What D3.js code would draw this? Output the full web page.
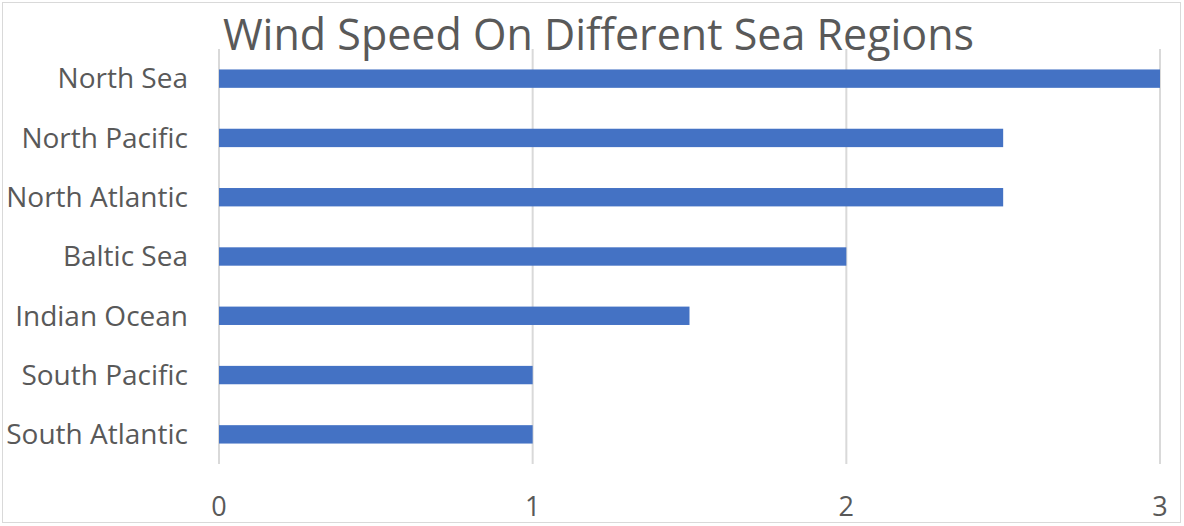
<!DOCTYPE html>
<html><head><meta charset="utf-8">
<script src="https://cdn.jsdelivr.net/npm/d3@7"></script>
<style>body{margin:0;background:#fff;} svg{display:block;}</style>
</head><body>
<svg id="c" width="1184" height="526"></svg>
<script>
const categories = ["North Sea","North Pacific","North Atlantic","Baltic Sea","Indian Ocean","South Pacific","South Atlantic"];
const values = [3, 2.5, 2.5, 2, 1.5, 1, 1];
const ticks = [0, 1, 2, 3];
const title = "Wind Speed On Different Sea Regions";

const svg = d3.select("#c");
const font = "'Open Sans', sans-serif";
svg.append("rect").attr("x",2.5).attr("y",2.5).attr("width",1178).attr("height",520)
  .attr("fill","#fff").attr("stroke","#d9d9d9").attr("stroke-width",1);

const x = d3.scaleLinear().domain([0,3]).range([219,1160]);
const y = d3.scaleBand().domain(categories).range([49,464]).paddingInner(0.69).paddingOuter(0.345);

svg.append("g").selectAll("line").data(ticks).join("line")
  .attr("x1",d=>x(d)).attr("x2",d=>x(d)).attr("y1",49).attr("y2",464)
  .attr("stroke","#d9d9d9").attr("stroke-width",2);

svg.append("g").selectAll("rect").data(values).join("rect")
  .attr("x",x(0)).attr("y",(d,i)=>y(categories[i]))
  .attr("width",d=>x(d)-x(0)).attr("height",y.bandwidth())
  .attr("fill","#4472c4");

svg.append("g").selectAll("text").data(categories).join("text")
  .attr("x",188).attr("y",d=>y(d)+y.bandwidth()/2).attr("dy","0.35em")
  .attr("text-anchor","end").attr("font-family",font).attr("font-size",28).attr("fill","#595959")
  .text(d=>d);

svg.append("g").selectAll("text").data(ticks).join("text")
  .attr("x",d=>x(d)).attr("y",507).attr("dy","0.35em")
  .attr("text-anchor","middle").attr("font-family",font).attr("font-size",27).attr("fill","#595959")
  .text(d=>d);

svg.append("text").attr("x",598.5).attr("y",50).attr("text-anchor","middle")
  .attr("font-family",font).attr("font-size",43).attr("fill","#595959").text(title);
</script>
</body></html>
